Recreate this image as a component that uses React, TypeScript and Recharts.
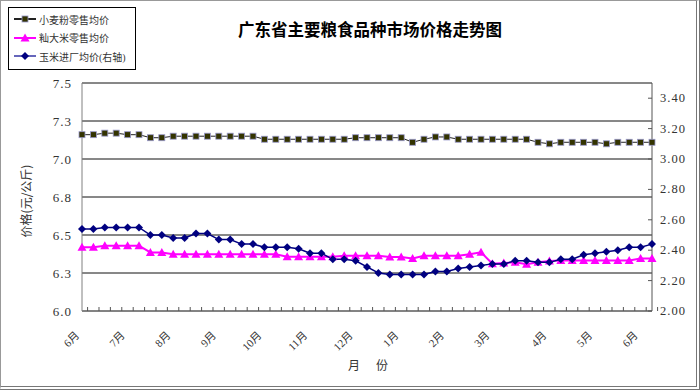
import { ComposedChart, Line, XAxis, YAxis, CartesianGrid } from "recharts";

// weekly prices, June to June
const wheatPrice = [
  7.16, 7.16, 7.17, 7.17, 7.16, 7.16, 7.14, 7.14, 7.15, 7.15, 7.15, 7.15, 7.15,
  7.15, 7.15, 7.15, 7.13, 7.13, 7.13, 7.13, 7.13, 7.13, 7.13, 7.13, 7.14, 7.14,
  7.14, 7.14, 7.14, 7.11, 7.13, 7.145, 7.145, 7.13, 7.13, 7.13, 7.13, 7.13, 7.13,
  7.13, 7.11, 7.1, 7.11, 7.11, 7.11, 7.11, 7.1, 7.11, 7.11, 7.11, 7.11,
];
const ricePrice = [
  6.42, 6.42, 6.43, 6.43, 6.43, 6.43, 6.385, 6.385, 6.373, 6.373, 6.373, 6.373,
  6.373, 6.373, 6.373, 6.373, 6.373, 6.373, 6.357, 6.357, 6.357, 6.357, 6.357,
  6.364, 6.364, 6.364, 6.364, 6.355, 6.355, 6.346, 6.364, 6.364, 6.364, 6.364,
  6.373, 6.386, 6.311, 6.316, 6.32, 6.307, 6.32, 6.329, 6.333, 6.333, 6.333,
  6.333, 6.333, 6.333, 6.333, 6.346, 6.346,
];
const cornPrice = [
  2.54, 2.54, 2.55, 2.55, 2.55, 2.55, 2.5, 2.5, 2.48, 2.48, 2.51, 2.51, 2.47,
  2.47, 2.44, 2.44, 2.42, 2.42, 2.42, 2.41, 2.38, 2.38, 2.34, 2.34, 2.33, 2.29,
  2.25, 2.24, 2.24, 2.24, 2.24, 2.26, 2.26, 2.28, 2.29, 2.3, 2.31, 2.31, 2.33,
  2.33, 2.32, 2.32, 2.34, 2.34, 2.37, 2.38, 2.39, 2.4, 2.42, 2.42, 2.44,
];

const monthNames = ["6月", "7月", "8月", "9月", "10月", "11月", "12月", "1月", "2月", "3月", "4月", "5月", "6月"];
const monthStartWeek = [0, 4, 8, 12, 16, 20, 24, 28, 32, 36, 41, 45, 49];

const leftTicks = [6, 6.25, 6.5, 6.75, 7, 7.25, 7.5];
const rightTicks = [2, 2.2, 2.4, 2.6, 2.8, 3, 3.2, 3.4];

const data = wheatPrice.map((w, i) => {
  const m = monthStartWeek.indexOf(i);
  return {
    week: i,
    label: m >= 0 ? monthNames[m] : "",
    wheat: w,
    rice: ricePrice[i],
    corn: cornPrice[i],
  };
});

const PLOT_W = 570;
const band = PLOT_W / data.length;
const serif = "'Liberation Serif', 'Noto Sans CJK SC', serif";
const cjk = "'Noto Sans CJK SC', sans-serif";

const SquareDot = (p: any) => (
  <rect x={p.cx - 3} y={p.cy - 3} width={6} height={6} fill="#333300" stroke="#9999cc" strokeWidth={0.8} />
);
const TriangleDot = (p: any) => (
  <polygon points={`${p.cx},${p.cy - 4.5} ${p.cx - 4.5},${p.cy + 3.5} ${p.cx + 4.5},${p.cy + 3.5}`} fill="#ff00ff" />
);
const DiamondDot = (p: any) => (
  <polygon points={`${p.cx},${p.cy - 4} ${p.cx + 4},${p.cy} ${p.cx},${p.cy + 4} ${p.cx - 4},${p.cy}`} fill="#000080" />
);

const MonthTick = (p: any) => {
  const row = data[p.payload.index] ?? data[p.payload.value];
  const tx = p.x - 2;
  const ty = p.y + 25;
  return (
    <g>
      <line x1={p.x + band / 2} y1={p.y} x2={p.x + band / 2} y2={p.y - 4} stroke="#555" />
      {row && row.label ? (
        <text x={tx} y={ty} textAnchor="end" fontSize={11} fill="#333" fontFamily={serif} transform={`rotate(-45, ${tx}, ${ty})`}>
          {row.label}
        </text>
      ) : null}
    </g>
  );
};

const RightTick = (p: any) => (
  <g>
    <line x1={p.x - 8} y1={p.y} x2={p.x - 12} y2={p.y} stroke="#555" />
    <text x={p.x} y={p.y} dy={4} fontSize={12.5} fill="#333" fontFamily={serif} letterSpacing={1}>
      {Number(p.payload.value).toFixed(2)}
    </text>
  </g>
);

const legendItems = [
  { name: "小麦粉零售均价", line: "#222", dot: "square" },
  { name: "籼大米零售均价", line: "#ff00ff", dot: "triangle" },
  { name: "玉米进厂均价(右轴)", line: "#6666bb", dot: "diamond" },
];

function LegendBox() {
  return (
    <div style={{ position: "absolute", left: 8, top: 7, width: 126, height: 61, border: "1px solid #000", background: "#fff" }}>
      {legendItems.map((it, i) => (
        <div key={it.name} style={{ position: "absolute", left: 4, top: 3 + i * 18.5, height: 16, display: "flex", alignItems: "center" }}>
          <svg width={24} height={12}>
            <line x1={1} y1={6} x2={23} y2={6} stroke={it.line} strokeWidth={2} />
            {it.dot === "square" && <SquareDot cx={12} cy={6} />}
            {it.dot === "triangle" && <TriangleDot cx={12} cy={6} />}
            {it.dot === "diamond" && <DiamondDot cx={12} cy={6} />}
          </svg>
          <span style={{ marginLeft: 2, fontSize: 10, color: "#333", fontFamily: serif, whiteSpace: "nowrap" }}>{it.name}</span>
        </div>
      ))}
    </div>
  );
}

export default function App() {
  return (
    <div style={{ position: "absolute", left: 0, top: 0, width: 700, height: 390, background: "#fff" }}>
      <ComposedChart width={700} height={390} data={data} margin={{ top: 83, right: 8, left: 22, bottom: 49 }}>
        <CartesianGrid yAxisId="left" vertical={false} stroke="#111" />
        <XAxis
          dataKey="week"
          type="category"
          interval={0}
          height={30}
          tickSize={0}
          tickMargin={0}
          tickLine={false}
          axisLine={{ stroke: "#808080" }}
          tick={<MonthTick />}
        />
        <YAxis
          yAxisId="left"
          domain={[6, 7.5]}
          ticks={leftTicks}
          width={60}
          tickSize={0}
          tickMargin={10}
          tickLine={false}
          axisLine={{ stroke: "#808080" }}
          tickFormatter={(v: number) => v.toFixed(1)}
          tick={{ fontSize: 13, fill: "#333", fontFamily: serif, letterSpacing: 1 }}
        />
        <YAxis
          yAxisId="right"
          orientation="right"
          domain={[2, 3.5]}
          ticks={rightTicks}
          width={40}
          tickSize={0}
          tickMargin={8}
          tickLine={false}
          axisLine={{ stroke: "#555" }}
          tick={<RightTick />}
        />
        <Line yAxisId="left" dataKey="wheat" stroke="#222" strokeWidth={1} dot={SquareDot} activeDot={false} isAnimationActive={false} />
        <Line yAxisId="left" dataKey="rice" stroke="#ff00ff" strokeWidth={2} dot={TriangleDot} activeDot={false} isAnimationActive={false} />
        <Line yAxisId="right" dataKey="corn" stroke="#000080" strokeWidth={1.5} dot={DiamondDot} activeDot={false} isAnimationActive={false} />
      </ComposedChart>

      <div style={{ position: "absolute", left: 238, top: 21, fontSize: 16.5, fontWeight: "bold", fontFamily: cjk, color: "#000", whiteSpace: "nowrap", lineHeight: 1 }}>
        广东省主要粮食品种市场价格走势图
      </div>
      <div style={{ position: "absolute", left: 25, top: 201, transform: "translate(-50%, -50%) rotate(-90deg)", fontSize: 12, fontFamily: cjk, color: "#333", whiteSpace: "nowrap" }}>
        价格(元/公斤)
      </div>
      <div style={{ position: "absolute", left: 348, top: 356, fontSize: 12, fontFamily: cjk, color: "#333" }}>月</div>
      <div style={{ position: "absolute", left: 376, top: 356, fontSize: 12, fontFamily: cjk, color: "#333" }}>份</div>

      <LegendBox />

      <div style={{ position: "absolute", left: 0, top: 0, width: 700, height: 390, boxSizing: "border-box", borderLeft: "1px solid #999", borderTop: "1px solid #999", borderRight: "4px double #777", borderBottom: "4px double #777", pointerEvents: "none" }} />
    </div>
  );
}
